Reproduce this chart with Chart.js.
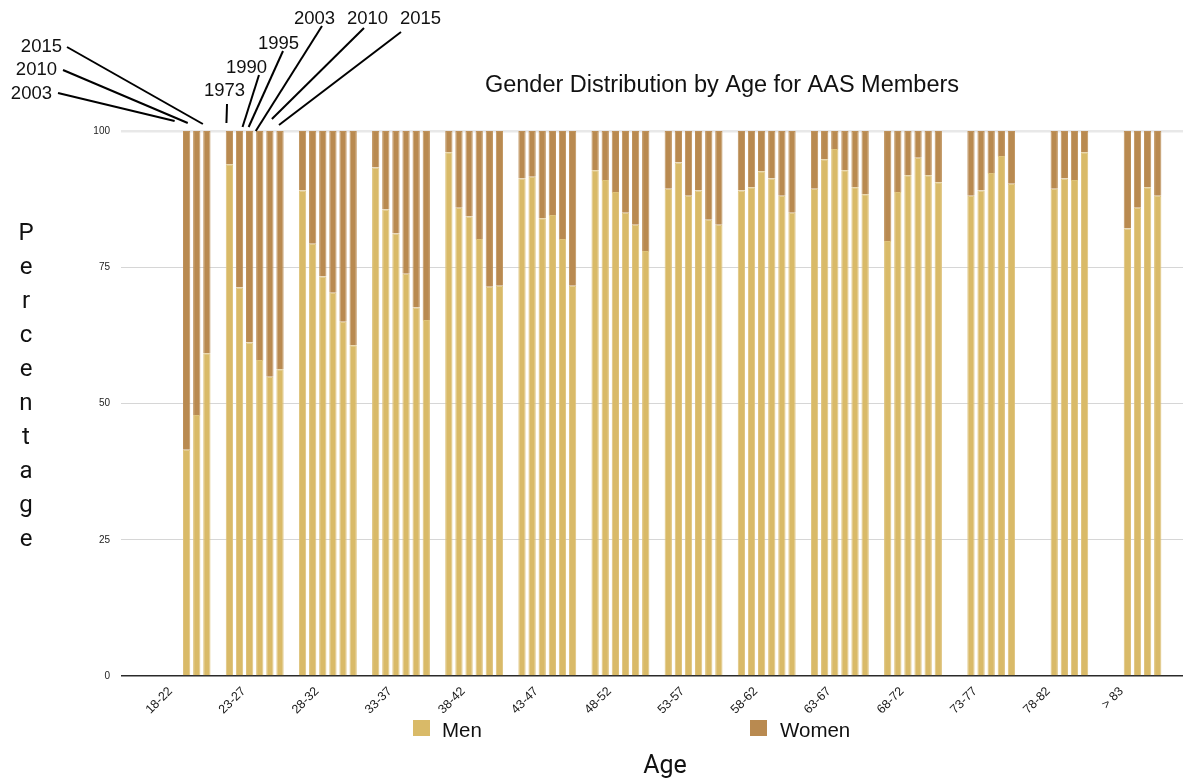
<!DOCTYPE html>
<html>
<head>
<meta charset="utf-8">
<title>Gender Distribution by Age for AAS Members</title>
<script src="https://cdn.jsdelivr.net/npm/chart.js@4.4.0/dist/chart.umd.min.js"></script>
<style>
	html, body { margin: 0; padding: 0; background: #fff; }
</style>
</head>
<body>
<canvas id="myChart" width="1183" height="783"></canvas>
<script>
// age groups (x axis) and survey years (one bar per year in every group)
const ageGroups = ['18-22', '23-27', '28-32', '33-37', '38-42', '43-47', '48-52', '53-57', '58-62', '63-67', '68-72', '73-77', '78-82', '> 83'];
const years = ['1973', '1990', '1995', '2003', '2010', '2015'];
const yTicks = [0, 25, 50, 75, 100];

// percentage of men per age group, null = no data for that year
const men1973 = [null, 93.9, 89.1, 93.3, 96.1, 91.3, 92.8, 89.4, 89.1, 89.4, 79.8, null, null, null];
const men1990 = [null, 71.3, 79.3, 85.6, 85.9, 91.6, 91.0, 94.2, 89.7, 94.8, 88.8, 88.1, null, null];
const men1995 = [null, 61.2, 73.3, 81.2, 84.3, 84.0, 88.8, 88.1, 92.6, 96.7, 91.9, 89.1, 89.4, 82.1];
const men2003 = [41.5, 58.0, 70.3, 73.8, 80.2, 84.6, 85.0, 89.1, 91.3, 92.8, 95.1, 92.3, 91.3, 85.9];
const men2010 = [47.9, 54.9, 65.0, 67.6, 71.4, 80.2, 82.8, 83.7, 88.1, 89.7, 91.9, 95.4, 91.0, 89.7];
const men2015 = [59.2, 56.3, 60.7, 65.3, 71.6, 71.6, 78.0, 82.8, 85.0, 88.4, 90.6, 90.3, 96.1, 88.1];

// percentage of women per age group
const women1973 = [null, 6.1, 10.9, 6.7, 3.9, 8.7, 7.2, 10.6, 10.9, 10.6, 20.2, null, null, null];
const women1990 = [null, 28.7, 20.7, 14.4, 14.1, 8.4, 9.0, 5.8, 10.3, 5.2, 11.2, 11.9, null, null];
const women1995 = [null, 38.8, 26.7, 18.8, 15.7, 16.0, 11.2, 11.9, 7.4, 3.3, 8.1, 10.9, 10.6, 17.9];
const women2003 = [58.5, 42.0, 29.7, 26.2, 19.8, 15.4, 15.0, 10.9, 8.7, 7.2, 4.9, 7.7, 8.7, 14.1];
const women2010 = [52.1, 45.1, 35.0, 32.4, 28.6, 19.8, 17.2, 16.3, 11.9, 10.3, 8.1, 4.6, 9.0, 10.3];
const women2015 = [40.8, 43.7, 39.3, 34.7, 28.4, 28.4, 22.0, 17.2, 15.0, 11.6, 9.4, 9.7, 3.9, 11.9];

const menByYear = [men1973, men1990, men1995, men2003, men2010, men2015];
const womenByYear = [women1973, women1990, women1995, women2003, women2010, women2015];

const MEN_COLOR = '#D9BA68';
const WOMEN_COLOR = '#B98A50';
const FONT = '"Liberation Sans", Helvetica, Arial, sans-serif';
const FONT2 = 'Roboto, "DejaVu Sans", sans-serif';

// callouts naming the years above the first two groups (layout only)
const callouts = [
	{ year: '2003', group: 0, tx: 52, ty: 99, align: 'right', lx: 58, ly: 93, dx: -12, dy: -10 },
	{ year: '2010', group: 0, tx: 57, ty: 75, align: 'right', lx: 63, ly: 70, dx: -9, dy: -8 },
	{ year: '2015', group: 0, tx: 62, ty: 52, align: 'right', lx: 67, ly: 47, dx: -4, dy: -7 },
	{ year: '1973', group: 1, tx: 204, ty: 96, align: 'left', lx: 227, ly: 104, dx: -3, dy: -8 },
	{ year: '1990', group: 1, tx: 226, ty: 73, align: 'left', lx: 259, ly: 75, dx: 3, dy: -4 },
	{ year: '1995', group: 1, tx: 258, ty: 48.5, align: 'left', lx: 283, ly: 51, dx: -1, dy: -4 },
	{ year: '2003', group: 1, tx: 294, ty: 24, align: 'left', lx: 322, ly: 26, dx: -4, dy: 0 },
	{ year: '2010', group: 1, tx: 347, ty: 24, align: 'left', lx: 364, ly: 28, dx: 2, dy: -12 },
	{ year: '2015', group: 1, tx: 400, ty: 24, align: 'left', lx: 401, ly: 32, dx: -1, dy: -6 },
];

// datasets : Men + Women stacked per year (stack = year)
let datasets = [];
years.forEach((yr, i) => {
	datasets.push({
		label: 'Men', stack: yr, data: menByYear[i],
		backgroundColor: MEN_COLOR, borderColor: '#DEC27B', borderWidth: 1,
	});
	datasets.push({
		label: 'Women', stack: yr, data: womenByYear[i],
		backgroundColor: WOMEN_COLOR, borderColor: '#BE915A', borderWidth: 1,
	});
});

// grid line look (0 = base line, 100 = top line)
const gridColor = (c) => {
	if (!c.tick) return '#d6d6d6';
	if (c.tick.value === 0) return '#2a2a2a';
	if (c.tick.value === 100) return '#e8e8e8';
	return '#d6d6d6';
};
const gridWidth = (c) => {
	if (!c.tick) return 1;
	if (c.tick.value === 0) return 1.5;
	if (c.tick.value === 100) return 2.5;
	return 1;
};

// texts and callouts that are not part of the axes
const extras = {
	id: 'extras',
	afterDraw(chart) {
		const c = chart.ctx;
		const yScale = chart.scales.y;
		const top = yScale.getPixelForValue(100);
		c.save();

		// title
		c.fillStyle = '#111';
		c.font = '23.5px ' + FONT;
		c.textAlign = 'center';
		c.textBaseline = 'alphabetic';
		c.fillText('Gender Distribution by Age for AAS Members', 722, 92);

		// year callouts
		c.font = '18.5px ' + FONT;
		c.strokeStyle = '#000';
		c.lineWidth = 2;
		callouts.forEach((o) => {
			const dsIndex = years.indexOf(o.year) * 2 + 1;
			const bar = chart.getDatasetMeta(dsIndex).data[o.group];
			c.textAlign = o.align;
			c.fillText(o.year, o.tx, o.ty);
			c.beginPath();
			c.moveTo(o.lx, o.ly);
			c.lineTo(bar.x + o.dx, top + o.dy);
			c.stroke();
		});

		// y axis title, one letter per line
		c.font = '24px ' + FONT2;
		c.textAlign = 'center';
		c.fillStyle = '#111';
		'Percentage'.split('').forEach((ch, i) => {
			c.fillText(ch, 26, 240 + i * 34);
		});

		// legend
		const legend = [
			{ text: 'Men', color: MEN_COLOR, bx: 413, tx: 442 },
			{ text: 'Women', color: WOMEN_COLOR, bx: 750, tx: 780 },
		];
		c.font = '20.5px ' + FONT;
		c.textAlign = 'left';
		legend.forEach((l) => {
			c.fillStyle = l.color;
			c.fillRect(l.bx, 720, 17, 16);
			c.fillStyle = '#111';
			c.fillText(l.text, l.tx, 737);
		});

		// x axis title
		c.font = '25px ' + FONT2;
		c.textAlign = 'center';
		c.fillText('Age', 665, 773);
		c.restore();
	}
};

const ctx = document.getElementById('myChart');

new Chart(ctx, {
	type: 'bar',
	data: {
		labels: ageGroups,
		datasets: datasets
	},
	options: {
		responsive: false,
		animation: false,
		categoryPercentage: 0.83,
		barPercentage: 0.72,
		layout: { padding: { top: 131, left: 0, right: 0, bottom: 0 } },
		plugins: {
			legend: { display: false },
			title: { display: false },
			tooltip: { enabled: false }
		},
		scales: {
			x: {
				stacked: true,
				grid: { display: false, drawTicks: false },
				border: { display: false },
				ticks: {
					autoSkip: false, minRotation: 45, maxRotation: 45,
					labelOffset: -11, padding: 8,
					color: '#1a1a1a', font: { size: 12.5, family: FONT }
				},
				afterFit: (s) => { s.height = 107; }
			},
			y: {
				stacked: true,
				min: 0, max: 100,
				z: 1,
				afterBuildTicks: (s) => { s.ticks = yTicks.map((v) => ({ value: v })); },
				ticks: { padding: 11, color: '#222', font: { size: 10, family: FONT } },
				grid: { color: gridColor, lineWidth: gridWidth, drawTicks: true, tickLength: 24 },
				border: { display: false },
				afterFit: (s) => { s.width = 145; }
			},
			y2: {
				position: 'right',
				min: 0, max: 100,
				z: 1,
				afterBuildTicks: (s) => { s.ticks = yTicks.map((v) => ({ value: v })); },
				ticks: { display: false },
				grid: { drawOnChartArea: false, color: gridColor, lineWidth: gridWidth, drawTicks: true, tickLength: 14 },
				border: { display: false },
				afterFit: (s) => { s.width = 14; }
			}
		}
	},
	plugins: [extras]
});
</script>
</body>
</html>
